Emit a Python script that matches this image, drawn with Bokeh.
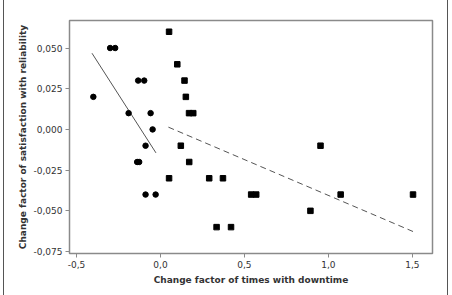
from bokeh.plotting import figure
from bokeh.models import FixedTicker, Range1d
from bokeh.embed import file_html
from bokeh.resources import INLINE

# Group 1 (circles): reliability change vs downtime change
circ_x = [-0.40, -0.30, -0.27, -0.133, -0.097, -0.19, -0.059, -0.047,
          -0.089, -0.139, -0.127, -0.089, -0.029]
circ_y = [0.020, 0.050, 0.050, 0.030, 0.030, 0.010, 0.010, 0.000,
          -0.010, -0.020, -0.020, -0.040, -0.040]
# Group 2 (squares)
sq_x = [0.051, 0.10, 0.143, 0.151, 0.17, 0.195, 0.121, 0.171, 0.051, 0.29,
        0.372, 0.54, 0.57, 0.334, 0.42, 0.953, 1.073, 0.893, 1.504]
sq_y = [0.060, 0.040, 0.030, 0.020, 0.010, 0.010, -0.010, -0.020, -0.030, -0.030,
        -0.030, -0.040, -0.040, -0.060, -0.060, -0.010, -0.040, -0.050, -0.040]
# Fitted lines (endpoints)
fit1_x = [-0.408, -0.027]
fit1_y = [0.0468, -0.0144]
fit2_x = [0.047, 1.504]
fit2_y = [0.0014, -0.0627]

x_ticks = [-0.5, 0.0, 0.5, 1.0, 1.5]
x_tick_labels = ["-0,5", "0,0", "0,5", "1,0", "1,5"]
y_ticks = [-0.075, -0.05, -0.025, 0.0, 0.025, 0.05]
y_tick_labels = ["-0,075", "-0,050", "-0,025", "0,000", "0,025", "0,050"]

FONT = "DejaVu Sans"
GRAY = "#8a8a8a"
TXT = "#333333"

p = figure(width=445, height=295, output_backend="svg", toolbar_location=None,
           x_range=Range1d(-0.542, 1.62), y_range=Range1d(-0.0762, 0.0669),
           min_border_left=65, min_border_right=17, min_border_top=20,
           min_border_bottom=42)
p.styles = {"margin-left": "3px", "border-left": "1px solid #555555",
            "border-right": "1px solid #555555"}
p.grid.visible = False
p.outline_line_color = GRAY
p.outline_line_width = 1.5
p.background_fill_color = "white"
p.border_fill_color = "white"

p.xaxis.ticker = FixedTicker(ticks=x_ticks)
p.xaxis.major_label_overrides = dict(zip(x_ticks, x_tick_labels))
p.yaxis.ticker = FixedTicker(ticks=y_ticks)
p.yaxis.major_label_overrides = dict(zip(y_ticks, y_tick_labels))

for ax in (p.xaxis[0], p.yaxis[0]):
    ax.axis_line_color = GRAY
    ax.major_tick_line_color = GRAY
    ax.minor_tick_line_color = None
    ax.major_tick_in = 0
    ax.major_tick_out = 4
    ax.major_label_text_font = FONT
    ax.major_label_text_font_size = "9px"
    ax.major_label_text_color = TXT
    ax.axis_label_text_font = FONT
    ax.axis_label_text_font_size = "9px"
    ax.axis_label_text_font_style = "bold"
    ax.axis_label_text_color = TXT
    ax.major_label_standoff = 3

p.xaxis.axis_label = "Change factor of times with downtime"
p.yaxis.axis_label = "Change factor of satisfaction with reliability"
p.xaxis.axis_label_standoff = 4
p.yaxis.axis_label_standoff = 2

p.line(fit1_x, fit1_y, line_color="#555555", line_width=1)
p.line(fit2_x, fit2_y, line_color="#555555", line_width=1, line_dash="6 4")
p.scatter(circ_x, circ_y, marker="circle", size=5.5, color="black")
p.scatter(sq_x, sq_y, marker="square", size=5.5, color="black")

open("out.html", "w").write(file_html(p, INLINE))
